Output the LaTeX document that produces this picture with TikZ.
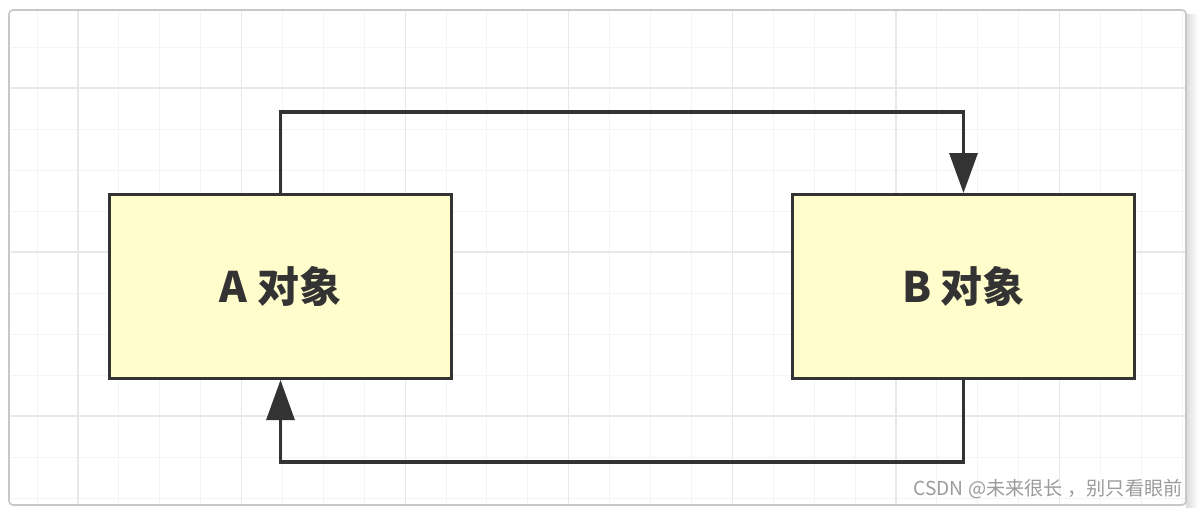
\documentclass[tikz,border=0pt]{standalone}
\usepackage{fontspec}
\setmainfont{Noto Sans CJK SC}
\usepackage{tikz}
\usetikzlibrary{arrows.meta, positioning}
\definecolor{boxfill}{RGB}{255,253,204}
\definecolor{linedark}{RGB}{51,51,51}
\definecolor{gridminor}{RGB}{244,244,244}
\definecolor{gridmajor}{RGB}{232,232,232}
\definecolor{markgray}{RGB}{155,155,155}
\begin{document}
\begin{tikzpicture}[x=0.5pt, y=-0.5pt, node distance=169pt]
  \tikzset{
    objbox/.style={draw=linedark, line width=1.5pt, fill=boxfill, text=linedark, minimum width=171pt, minimum height=92pt, font=\fontsize{21pt}{24pt}\selectfont\bfseries},
    link/.style={draw=linedark, line width=1.6pt, -{Triangle[length=20pt, width=14pt]}},
    minorline/.style={draw=gridminor, line width=0.5pt},
    majorline/.style={draw=gridmajor, line width=0.6pt}
  }
  \useasboundingbox (0,0) rectangle (1200,509);
  \fill[white] (0,0) rectangle (1200,509);
  \shade[left color=black!14, right color=white] (1186,14) rectangle (1198,507);
  \foreach \i in {0,...,28} \draw[minorline] ({37+40.9*\i},11) -- ({37+40.9*\i},504);
  \foreach \j in {0,...,11} \draw[minorline] (11,{47+41*\j}) -- (1185,{47+41*\j});
  \foreach \i in {0,...,6} \draw[majorline] ({78+163.6*\i},11) -- ({78+163.6*\i},504);
  \foreach \j in {0,...,2} \draw[majorline] (11,{88+164*\j}) -- (1185,{88+164*\j});
  \draw[black!22, line width=0.8pt, rounded corners=2pt] (9,10) rectangle (1186,505);
  \node[objbox] (A) at (280.5,286.5) {A 对象};
  \node[objbox, right=of A] (B) {B 对象};
  \coordinate (toprun) at (0,112);
  \coordinate (botrun) at (0,462);
  \draw[link] (A.north) -- (A.north |- toprun) -| (B.north);
  \draw[link] (B.south) -- (B.south |- botrun) -| (A.south);
  \node[anchor=east, inner sep=0pt, text=markgray, font=\fontsize{9.6pt}{12pt}\selectfont] (mark) at (1183,489) {CSDN @未来很长 ，别只看眼前};
\end{tikzpicture}
\end{document}
